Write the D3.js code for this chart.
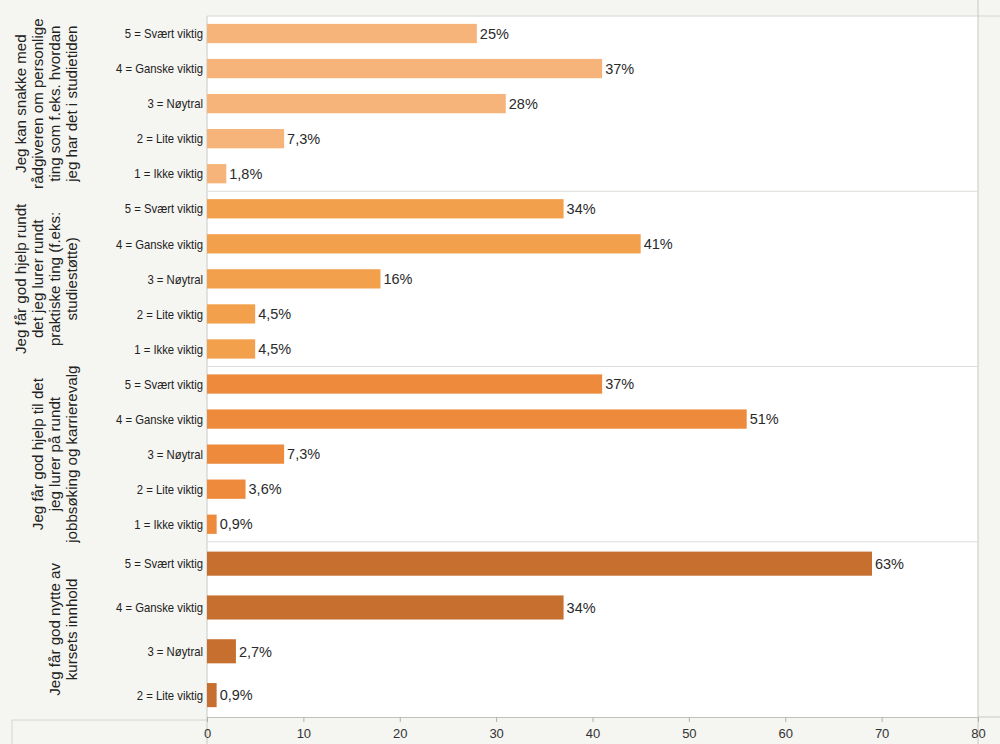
<!DOCTYPE html>
<html><head><meta charset="utf-8">
<script src="https://cdn.jsdelivr.net/npm/d3@7"></script>
<style>body{margin:0;background:#f5f5f1;}svg{display:block;font-family:"Liberation Sans",Arial,sans-serif;}</style>
</head><body>
<svg id="c" width="1000" height="744"></svg>
<script>
const groups = [
  ["Jeg kan snakke med", "rådgiveren om personlige", "ting som f.eks. hvordan", "jeg har det i studietiden"],
  ["Jeg får god hjelp rundt", "det jeg lurer rundt", "praktiske ting (f.eks:", "studiestøtte)"],
  ["Jeg får god hjelp til det", "jeg lurer på rundt", "jobbsøking og karrierevalg"],
  ["Jeg får god nytte av", "kursets innhold"]
];
const categories = [
  ["5 = Svært viktig", "4 = Ganske viktig", "3 = Nøytral", "2 = Lite viktig", "1 = Ikke viktig"],
  ["5 = Svært viktig", "4 = Ganske viktig", "3 = Nøytral", "2 = Lite viktig", "1 = Ikke viktig"],
  ["5 = Svært viktig", "4 = Ganske viktig", "3 = Nøytral", "2 = Lite viktig", "1 = Ikke viktig"],
  ["5 = Svært viktig", "4 = Ganske viktig", "3 = Nøytral", "2 = Lite viktig"]
];
const counts = [
  [28, 41, 31, 8, 2],
  [37, 45, 18, 5, 5],
  [41, 56, 8, 4, 1],
  [69, 37, 3, 1]
];
const pctLabels = [
  ["25%", "37%", "28%", "7,3%", "1,8%"],
  ["34%", "41%", "16%", "4,5%", "4,5%"],
  ["37%", "51%", "7,3%", "3,6%", "0,9%"],
  ["63%", "34%", "2,7%", "0,9%"]
];
const colors = ["#f6b47b", "#f3a04c", "#ee8a3b", "#c66f2e"];
const xTicks = [0, 10, 20, 30, 40, 50, 60, 70, 80];

const svg = d3.select("#c");
const L = 207, R = 978, T = 16, B = 717;
const x = d3.scaleLinear().domain([0, 80]).range([L, R]);
const panel = d3.scaleBand().domain(d3.range(groups.length)).range([T, B]).padding(0);

// backgrounds
svg.append("rect").attr("x", 0).attr("y", 0).attr("width", 1000).attr("height", 744).attr("fill", "#f5f5f1");
svg.append("rect").attr("x", L).attr("y", T).attr("width", R - L).attr("height", B - T).attr("fill", "#ffffff");
svg.append("line").attr("x1", L).attr("x2", 1000).attr("y1", T).attr("y2", T).attr("stroke", "#d4d4d0");
svg.append("line").attr("x1", R).attr("x2", R).attr("y1", 0).attr("y2", 744).attr("stroke", "#c8c8c4");
svg.append("line").attr("x1", L).attr("x2", L).attr("y1", T).attr("y2", 744).attr("stroke", "#c8c8c4");
svg.append("line").attr("x1", 12).attr("x2", L).attr("y1", 720).attr("y2", 720).attr("stroke", "#d4d4d0");
svg.append("line").attr("x1", 12).attr("x2", 12).attr("y1", 720).attr("y2", 744).attr("stroke", "#d4d4d0");

groups.forEach((g, gi) => {
  const y0 = panel(gi), h = panel.bandwidth();
  const y = d3.scaleBand().domain(categories[gi]).range([y0, y0 + h]).paddingInner(0.45).paddingOuter(0.225);
  if (gi > 0) {
    svg.append("line").attr("x1", L).attr("x2", R).attr("y1", y0).attr("y2", y0).attr("stroke", "#dcdcd8");
  }
  const gg = svg.append("g");
  gg.selectAll("rect.bar").data(counts[gi]).join("rect")
    .attr("x", x(0)).attr("y", (d, i) => y(categories[gi][i]))
    .attr("width", d => x(d) - x(0)).attr("height", y.bandwidth())
    .attr("fill", colors[gi]);
  gg.selectAll("text.val").data(counts[gi]).join("text")
    .attr("x", d => x(d) + 3).attr("y", (d, i) => y(categories[gi][i]) + y.bandwidth() / 2)
    .attr("dy", "0.36em").attr("font-size", 14.5).attr("fill", "#2a2a2a")
    .text((d, i) => pctLabels[gi][i]);
  gg.selectAll("text.cat").data(categories[gi]).join("text")
    .attr("transform", d => `translate(203,${y(d) + y.bandwidth() / 2}) scale(0.87,1)`)
    .attr("dy", "0.36em").attr("text-anchor", "end").attr("font-size", 13).attr("fill", "#222")
    .text(d => d);
  // rotated header
  const cy = y0 + h / 2;
  const n = g.length;
  g.forEach((line, li) => {
    const cx = 72 - (n - 1 - li) * 17;
    svg.append("text")
      .attr("transform", `translate(${cx},${cy}) rotate(-90) scale(1.08,1)`)
      .attr("text-anchor", "middle").attr("dy", "0.36em")
      .attr("font-size", 14).attr("fill", "#222").text(line);
  });
});

// x axis
const axis = d3.axisBottom(x).tickValues(xTicks).tickSize(5).tickFormat(d3.format("d"));
const ax = svg.append("g").attr("transform", `translate(0,${B})`).call(axis);
ax.select(".domain").attr("stroke", "#c0c0bc");
ax.selectAll(".tick line").attr("stroke", "#b0b0ac");
ax.selectAll(".tick text").attr("font-size", 13).attr("fill", "#333").attr("dy", "1em")
  .attr("font-family", "'Liberation Sans',Arial,sans-serif");
svg.append("line").attr("x1", R).attr("x2", 1000).attr("y1", B).attr("y2", B).attr("stroke", "#c8c8c4");
</script>
</body></html>
